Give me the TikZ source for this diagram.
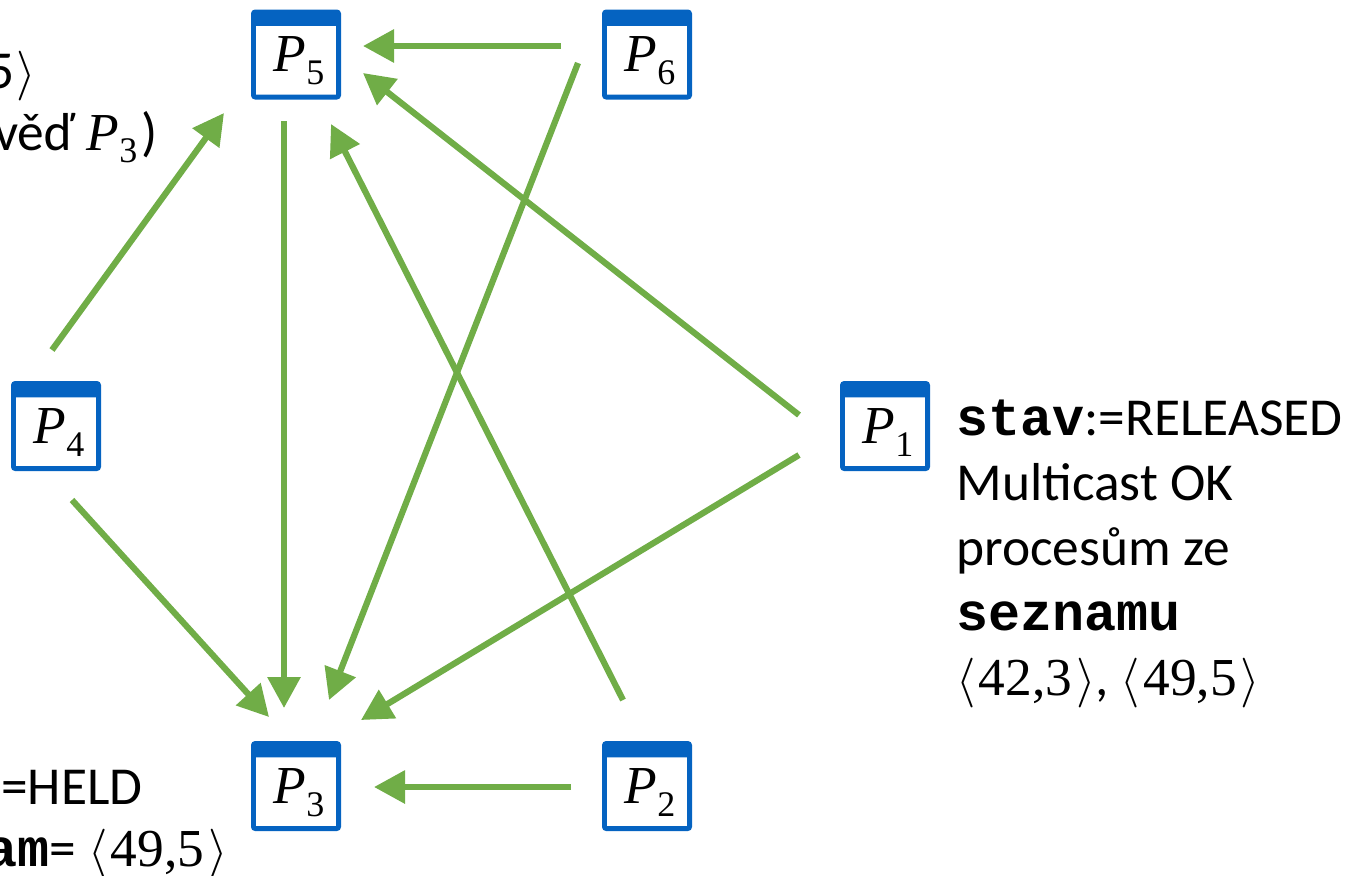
\documentclass[tikz,border=0pt]{standalone}
\usepackage{fontspec}
\setmainfont{Carlito}
\setmonofont{Liberation Mono}
\newfontfamily\procfont{Liberation Serif}
\usetikzlibrary{positioning, arrows.meta}
\definecolor{procblue}{HTML}{0563C1}
\definecolor{msggreen}{HTML}{70AD47}
\newcommand{\proc}[1]{{\procfont\itshape P}\raisebox{-0.24em}{\procfont\fontsize{18}{18}\selectfont #1}}
\newcommand{\tuple}[2]{$\langle$\kern1.5pt{\procfont #1,#2}\kern2pt$\rangle$}

\begin{document}
\begin{tikzpicture}[
                x=0.5pt,
                y=-0.5pt,
                >={Triangle[length=15.5pt, width=16pt]},
                font=\fontsize{26.7}{32.5}\selectfont,
                procbox/.style={rectangle, draw=procblue, line width=2.4pt, rounded corners=1pt, fill=white,
                    minimum size=42.6pt, inner sep=0pt, text depth=0pt,
                    path picture={\fill[procblue] (path picture bounding box.north west) rectangle
                        ([yshift=-7pt]path picture bounding box.north east);}},
                msg/.style={->, line width=3.1pt, draw=msggreen, fill=msggreen},
                note/.style={anchor=base east, inner sep=0pt},
            ]

                \useasboundingbox (0,0) rectangle (1348,875);

                % Draw the process windows
                \foreach \name / \x / \y in {5/296/54.5, 6/647/54.5, 4/56/426, 1/885/426, 3/296/786, 2/647/786}
                    \node[procbox] (P-\name) at (\x,\y) {\kern3pt\proc{\name}};

                % Free ends of the messages
                \foreach \name / \x / \y in {
                        a/561/46, b/363/46,
                        c/578/63, d/329/700,
                        e/799/415, f/363/73,
                        g/799/455, h/361/720,
                        i/623/700, j/331/124,
                        k/571/787, l/374/787,
                        m/52/350, n/224/113,
                        o/72/500, p/269/717,
                        q/284/121, r/284/708}
                    \coordinate (end-\name) at (\x,\y);

                % Draw the messages
                \foreach \source / \dest in {a/b, c/d, e/f, g/h, i/j, k/l, m/n, o/p, q/r}
                    \draw[msg] (end-\source) -- (end-\dest);

                % Notes on the left, cut by the page edge
                \node[note] (note-a) at (36,88) {5\kern1pt$\rangle$};
                \node[note] (note-b) at (158,150) {věď \proc{3}\kern2pt)};
                \node[note] (note-c) at (143,804) {=HELD};
                \node[note] (note-d) at (228,866) {{\ttfamily\bfseries am}= \tuple{49}{5}};

                % Note next to the first process
                \node[anchor=north west, inner sep=0pt, align=left] (note-e) at (956,400) {{\ttfamily\bfseries stav}:=RELEASED\\
                    Multicast OK\\
                    procesům ze\\
                    {\ttfamily\bfseries seznamu}\\
                    \tuple{42}{3}, \tuple{49}{5}};
            \end{tikzpicture}
\end{document}
